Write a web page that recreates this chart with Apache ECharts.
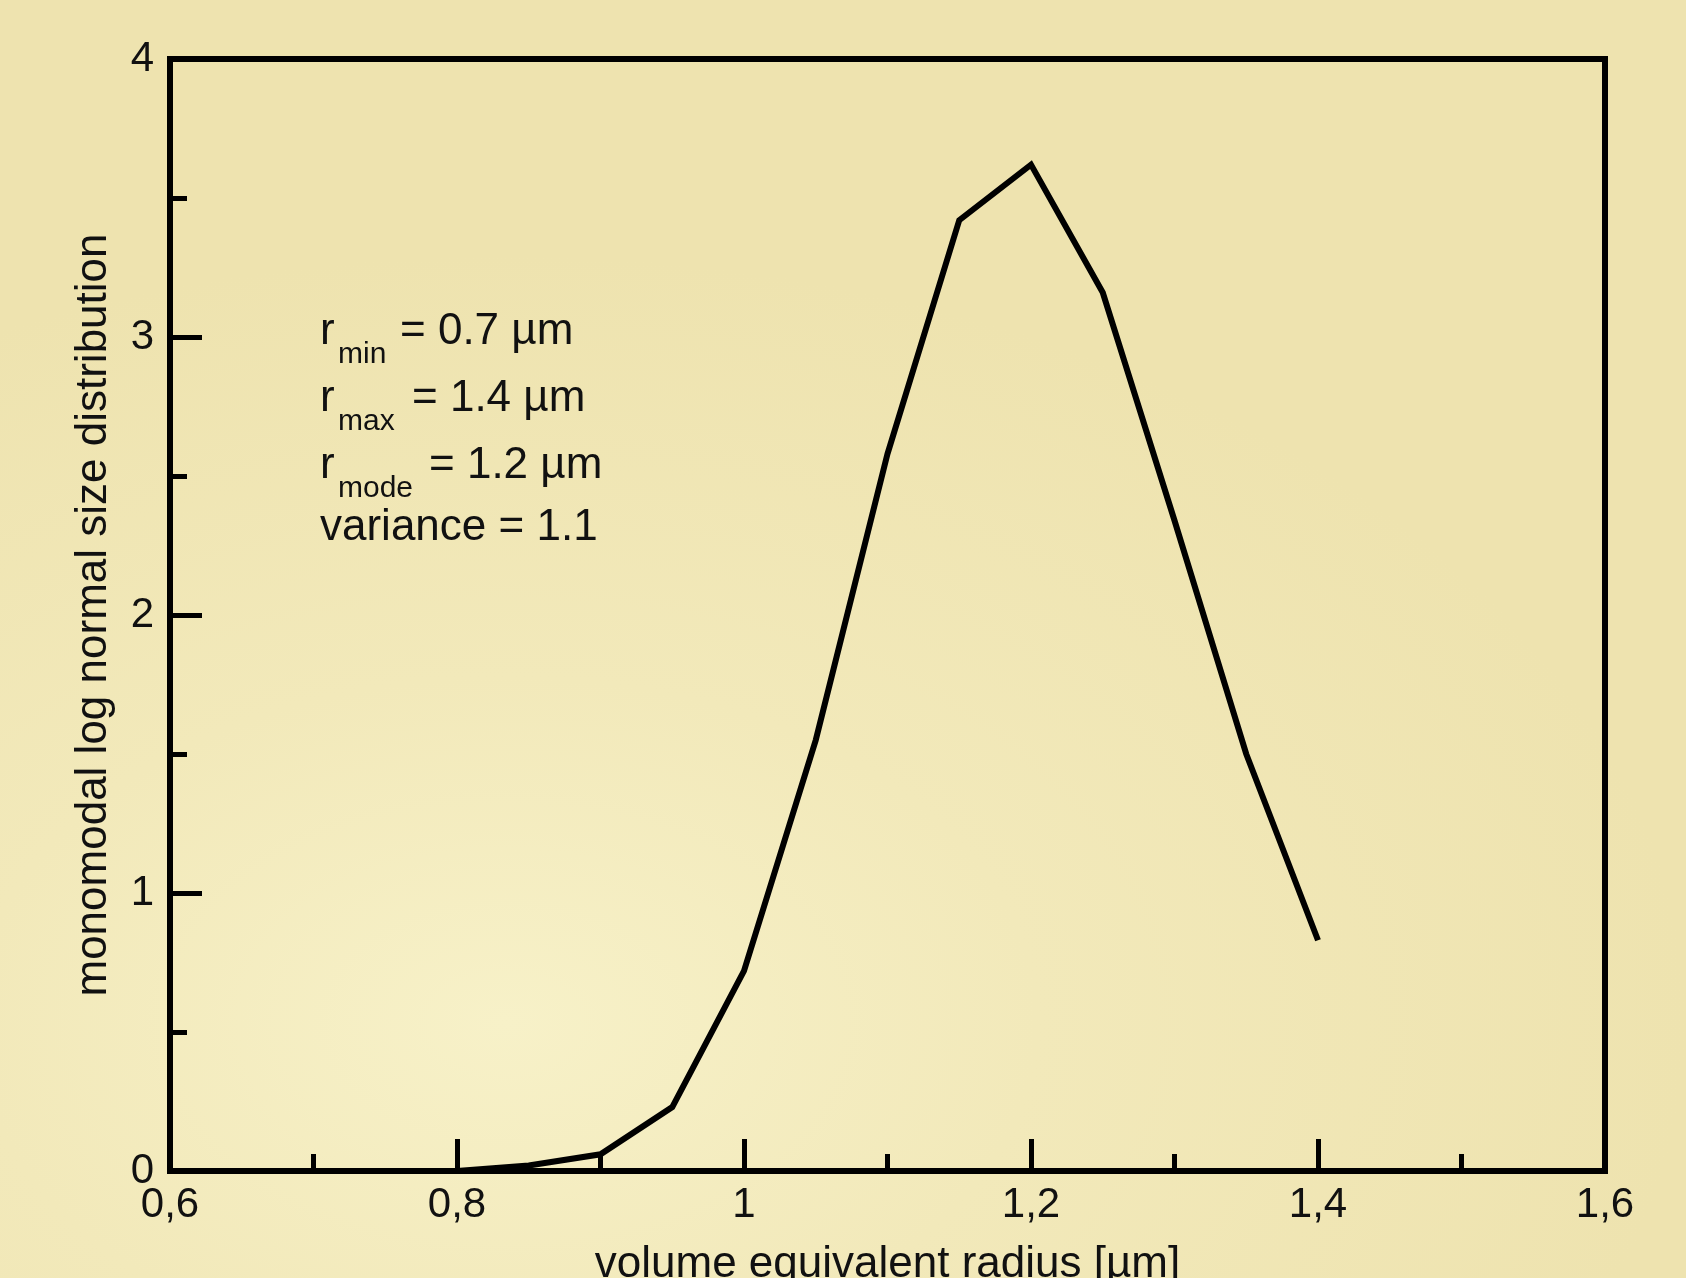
<!DOCTYPE html>
<html>
<head>
<meta charset="utf-8">
<title>monomodal log normal size distribution</title>
<script src="https://cdn.jsdelivr.net/npm/echarts@6.0.0/dist/echarts.min.js"></script>
<style>
  html, body {
    margin: 0;
    padding: 0;
  }
  body {
    width: 1686px;
    height: 1278px;
    overflow: hidden;
    background: radial-gradient(ellipse 70% 60% at 30% 80%, #f7f1c8 0%, #f2e9ba 45%, #eee3af 100%);
  }
  #line {
    width: 1686px;
    height: 1278px;
  }
</style>
</head>
<body>
<div id="line"></div>
<script>
  // radius [um] and distribution values
  const radius = [0.8, 0.85, 0.9, 0.95, 1.0, 1.05, 1.1, 1.15, 1.2, 1.25, 1.3, 1.35, 1.4];
  const distribution = [0, 0.02, 0.06, 0.23, 0.72, 1.55, 2.58, 3.42, 3.62, 3.16, 2.34, 1.5, 0.83];

  // annotation block
  const noteSubs = ['min', 'max', 'mode'];
  const noteValues = ['= 0.7 µm', '= 1.4 µm', '= 1.2 µm'];
  const noteVariance = 'variance = 1.1';

  const font = '"Liberation Sans", Arial, Helvetica, sans-serif';
  const ink = '#111';

  let myChart = echarts.init(document.getElementById('line'));

  // note rows: x of the value text and y of the row
  const rowY = [334, 401, 468];
  const valueX = [400, 412, 429];
  let graphics = [];
  noteSubs.forEach(function (sub, i) {
    graphics.push({
      type: 'text', left: 320, top: rowY[i] - 24,
      style: {text: 'r', font: '44px ' + font, fill: ink}
    });
    graphics.push({
      type: 'text', left: 338, top: rowY[i] + 6,
      style: {text: sub, font: '30px ' + font, fill: ink}
    });
    graphics.push({
      type: 'text', left: valueX[i], top: rowY[i] - 24,
      style: {text: noteValues[i], font: '44px ' + font, fill: ink}
    });
  });
  graphics.push({
    type: 'text', left: 320, top: 530 - 24,
    style: {text: noteVariance, font: '44px ' + font, fill: ink}
  });

  myChart.setOption({
    animation: false,
    backgroundColor: 'transparent',
    textStyle: {fontFamily: font, color: ink},
    grid: {
      left: 170,
      right: 81,
      top: 59,
      bottom: 107,
      outerBoundsMode: 'none',
      containLabel: false,
      show: true,
      borderColor: '#000',
      borderWidth: 6,
      backgroundColor: 'transparent'
    },
    graphic: graphics,
    xAxis: {
      type: 'value',
      min: 0.6,
      max: 1.6,
      interval: 0.2,
      name: 'volume equivalent radius [µm]',
      nameLocation: 'middle',
      nameGap: 72,
      nameTextStyle: {fontSize: 44, color: ink, fontFamily: font},
      axisLine: {show: true, lineStyle: {color: '#000', width: 6}},
      axisTick: {show: true, inside: true, length: 32, lineStyle: {color: '#000', width: 5}},
      minorTick: {show: true, splitNumber: 2, length: 17, lineStyle: {color: '#000', width: 5}},
      splitLine: {show: false},
      minorSplitLine: {show: false},
      axisLabel: {
        fontSize: 42,
        color: ink,
        margin: 13,
        formatter: function (v) {
          return String(+v.toFixed(1)).replace('.', ',');
        }
      }
    },
    yAxis: {
      type: 'value',
      min: 0,
      max: 4,
      interval: 1,
      name: 'monomodal log normal size distribution',
      nameLocation: 'middle',
      nameGap: 54,
      nameTextStyle: {fontSize: 44, color: ink, fontFamily: font},
      axisLine: {show: true, lineStyle: {color: '#000', width: 6}},
      axisTick: {show: true, inside: true, length: 32, lineStyle: {color: '#000', width: 5}},
      minorTick: {show: true, splitNumber: 2, length: 17, lineStyle: {color: '#000', width: 5}},
      splitLine: {show: false},
      minorSplitLine: {show: false},
      axisLabel: {fontSize: 42, color: ink, margin: 16}
    },
    series: [
      {
        name: 'distribution',
        type: 'line',
        data: radius.map(function (r, i) { return [r, distribution[i]]; }),
        showSymbol: false,
        symbol: 'none',
        lineStyle: {color: '#000', width: 6, join: 'miter'},
        z: 1
      }
    ]
  });
</script>
</body>
</html>
